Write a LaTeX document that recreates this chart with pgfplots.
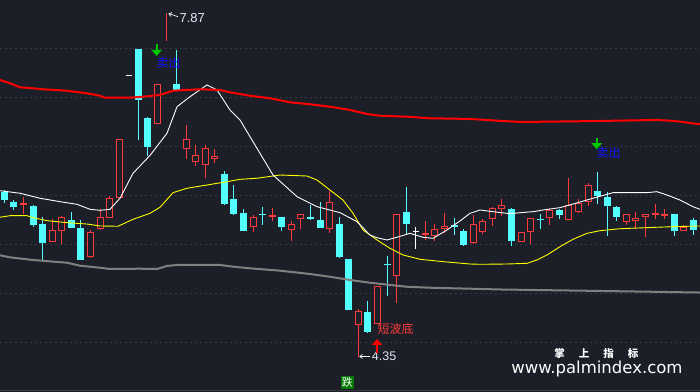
\documentclass[border=0pt]{standalone}
\usepackage{fontspec}
\setmainfont{Liberation Sans}
\newfontfamily\cjk{Noto Sans CJK SC}
\newfontfamily\dejavu{DejaVu Sans}
\usepackage{pgfplots}
\usepackage{pgfplotstable}
\pgfplotsset{compat=1.18}
\usetikzlibrary{arrows.meta}
\definecolor{bg}{RGB}{28,31,39}
\definecolor{gridc}{RGB}{54,58,66}
\definecolor{cy}{RGB}{84,255,255}
\definecolor{rd}{RGB}{255,58,58}
\definecolor{band}{RGB}{255,0,0}
\definecolor{yl}{RGB}{255,255,0}
\definecolor{gy}{RGB}{128,128,128}
\definecolor{bl}{RGB}{20,20,255}
\definecolor{gr}{RGB}{0,200,0}
\definecolor{boxg}{RGB}{0,120,0}
\definecolor{lbl}{RGB}{225,232,245}

% up candles (hollow red): x open high low close
\pgfplotstableread{
x o h l c
5 5.534 5.762 5.534 5.650
6 5.646 5.796 5.510 5.783
9 5.381 5.650 5.370 5.633
10 5.666 5.864 5.653 5.783
11 5.779 6.000 5.779 5.977
12 5.977 6.579 5.977 6.579
16 6.732 7.140 6.732 7.140
19 6.477 6.724 6.374 6.579
20 6.344 6.520 6.309 6.418
21 6.316 6.520 6.181 6.487
22 6.374 6.477 6.334 6.408
26 5.681 5.806 5.636 5.789
30 5.650 5.745 5.544 5.711
31 5.762 5.813 5.660 5.813
34 5.660 6.054 5.619 5.942
37 4.681 4.844 4.354 4.827
39 4.691 5.082 4.691 5.082
41 5.187 5.813 4.911 5.813
45 5.592 5.714 5.544 5.660
46 5.660 5.830 5.619 5.691
49 5.517 5.806 5.507 5.711
50 5.630 5.765 5.609 5.745
51 5.762 5.885 5.697 5.874
52 5.870 5.969 5.796 5.905
54 5.528 5.630 5.528 5.630
55 5.630 5.772 5.507 5.772
57 5.772 5.874 5.704 5.857
59 5.752 6.181 5.752 5.908
60 5.840 5.966 5.823 5.932
61 5.936 6.130 5.901 6.112
65 5.738 5.813 5.704 5.813
66 5.748 5.840 5.670 5.779
67 5.783 5.813 5.585 5.813
71 5.640 5.704 5.640 5.687
}\uptab

% small up candles (red cross)
\pgfplotstableread{
x o h l c
2 5.908 5.993 5.816 5.929
17 7.584 7.864 7.584 7.584
28 5.783 5.874 5.748 5.803
44 5.602 5.748 5.551 5.626
68 5.809 5.918 5.765 5.823
69 5.799 5.864 5.762 5.816
}\smalluptab

% down candles (filled cyan)
\pgfplotstableread{
x o h l c
0 6.034 6.061 5.925 5.959
1 5.932 5.959 5.857 5.891
3 5.888 5.908 5.687 5.704
4 5.714 5.789 5.347 5.523
7 5.755 5.837 5.677 5.677
8 5.673 5.755 5.347 5.347
14 7.490 7.490 6.571 6.987
15 6.789 6.803 6.408 6.503
18 7.133 7.490 7.082 7.082
23 6.224 6.255 5.908 5.925
24 5.966 6.112 5.806 5.823
25 5.823 5.864 5.646 5.646
27 5.816 5.891 5.704 5.806
29 5.783 5.783 5.646 5.687
32 5.783 5.908 5.755 5.772
33 5.745 5.942 5.677 5.677
35 5.714 5.789 5.364 5.381
36 5.357 5.357 4.844 4.844
38 4.813 4.929 4.605 4.622
40 5.306 5.388 4.983 5.296
42 5.830 6.095 5.602 5.721
47 5.697 5.772 5.602 5.687
48 5.636 5.663 5.490 5.510
53 5.867 5.878 5.493 5.544
56 5.765 5.816 5.663 5.755
58 5.857 5.867 5.762 5.813
62 6.051 6.248 5.918 6.003
63 5.987 6.038 5.595 5.901
64 5.885 5.895 5.748 5.789
70 5.816 5.816 5.595 5.646
72 5.748 5.779 5.602 5.663
}\downtab

% doji (white)
\pgfplotstableread{
x o h l c
13 7.227 7.232 7.232 7.237
43 5.628 5.687 5.459 5.638
}\dojitab

\pgfplotstableread{
x y
-0.45 7.184
0.6 7.150
1.64 7.109
3.0 7.099
4.04 7.089
6.55 7.074
8.64 7.048
10.0 7.023
10.52 7.003
13.13 7.003
14.49 7.013
16.27 7.031
17.63 7.074
20.45 7.089
22.54 7.082
23.58 7.058
25.67 7.023
27.76 6.997
29.85 6.956
31.94 6.936
34.03 6.911
36.12 6.878
37.9 6.837
39.26 6.819
42.08 6.809
44.48 6.793
48.66 6.786
52.11 6.765
54.1 6.755
61.93 6.765
68.2 6.776
70.08 6.765
70.92 6.755
72.38 6.735
72.7 6.735
}\redtab

\pgfplotstableread{
x y
-0.45 6.054
1.64 6.028
3.73 5.977
5.82 5.942
7.6 5.915
8.96 5.864
10.0 5.854
11.04 5.864
12.09 5.977
13.45 6.232
15.22 6.413
17.0 6.640
18.05 6.911
19.4 7.013
21.18 7.133
22.23 7.082
23.58 6.878
24.63 6.776
26.51 6.469
28.08 6.214
30.59 5.993
32.68 5.891
35.08 5.830
36.86 5.738
38.21 5.602
38.95 5.574
39.99 5.551
41.03 5.579
42.39 5.619
43.75 5.579
44.8 5.568
46.26 5.653
47.62 5.745
48.66 5.823
49.71 5.857
51.07 5.840
52.53 5.823
53.16 5.823
55.25 5.840
56.29 5.857
58.07 5.881
59.43 5.918
61.52 5.977
63.61 6.034
65.7 6.034
67.16 6.034
68.2 6.044
69.25 6.010
70.61 5.959
71.96 5.891
72.7 5.864
}\whitetab

\pgfplotstableread{
x y
-0.45 5.783
0.6 5.799
2.37 5.799
3.0 5.779
4.46 5.748
6.55 5.728
8.64 5.714
10.0 5.694
11.88 5.691
13.45 5.762
15.22 5.823
16.27 5.885
17.63 6.034
19.09 6.079
21.18 6.112
23.27 6.146
24.63 6.170
26.41 6.181
28.81 6.214
31.63 6.204
32.68 6.163
34.03 6.061
35.39 5.959
36.44 5.823
37.49 5.653
38.95 5.551
40.31 5.466
41.67 5.398
43.44 5.354
45.85 5.330
48.66 5.306
49.71 5.303
52.53 5.306
54.62 5.313
55.66 5.347
56.71 5.398
58.07 5.483
59.43 5.558
60.89 5.619
62.25 5.646
64.34 5.666
67.16 5.677
69.87 5.687
72.7 5.694
}\yellowtab

\pgfplotstableread{
x y
-0.45 5.395
0.6 5.374
3.0 5.347
6.55 5.319
7.91 5.289
10.0 5.268
11.04 5.255
14.18 5.258
15.96 5.255
17.0 5.286
18.05 5.296
22.54 5.296
23.9 5.279
25.67 5.262
28.81 5.238
31.94 5.204
34.03 5.176
36.12 5.143
38.21 5.115
40.3 5.092
42.08 5.074
44.48 5.064
48.66 5.054
51.8 5.046
62.25 5.031
72.7 5.015
}\graytab

\pgfplotsset{
  candle/.style={only marks, mark=*, mark size=0pt, mark options={draw=none, fill=none}},
}

\begin{document}
\begin{tikzpicture}
\begin{axis}[
  width=700pt, height=392pt, scale only axis,
  xmin=-0.45, xmax=72.7, ymin=4.0, ymax=8.0,
  axis line style={draw=none},
  axis background/.style={fill=bg},
  xtick=\empty,
  ytick={4.5,5.0,5.5,6.0,6.5,7.0,7.5},
  yticklabels={},
  major tick length=0pt,
  ymajorgrids,
  grid style={gridc, line width=1pt, dash pattern=on 2pt off 3pt},
]
% ---- down candles: wick + filled body
\addplot[candle, error bars/.cd, y dir=plus, y explicit, error mark=none,
  error bar style={line width=1pt, color=cy}]
  table[x=x, y=l, y error expr=\thisrow{h}-\thisrow{l}] {\downtab};
\addplot[candle, error bars/.cd, y dir=plus, y explicit, error mark=none,
  error bar style={line width=7pt, color=cy}]
  table[x=x, y expr=\thisrow{c}-0.005, y error expr=\thisrow{o}-\thisrow{c}+0.01] {\downtab};
% ---- up candles: wick + hollow body
\addplot[candle, error bars/.cd, y dir=plus, y explicit, error mark=none,
  error bar style={line width=1pt, color=rd}]
  table[x=x, y=l, y error expr=\thisrow{h}-\thisrow{l}] {\uptab};
\addplot[candle, error bars/.cd, y dir=plus, y explicit, error mark=none,
  error bar style={line width=7pt, color=rd}]
  table[x=x, y=o, y error expr=\thisrow{c}-\thisrow{o}] {\uptab};
\addplot[candle, error bars/.cd, y dir=plus, y explicit, error mark=none,
  error bar style={line width=5pt, color=bg}]
  table[x=x, y expr=\thisrow{o}+0.0102, y error expr=\thisrow{c}-\thisrow{o}-0.0204] {\uptab};
% ---- small up candles
\addplot[candle, error bars/.cd, y dir=plus, y explicit, error mark=none,
  error bar style={line width=1pt, color=rd}]
  table[x=x, y=l, y error expr=\thisrow{h}-\thisrow{l}] {\smalluptab};
\addplot[candle, error bars/.cd, y dir=plus, y explicit, error mark=none,
  error bar style={line width=7pt, color=rd}]
  table[x=x, y=o, y error expr=\thisrow{c}-\thisrow{o}] {\smalluptab};
% ---- doji
\addplot[candle, error bars/.cd, y dir=plus, y explicit, error mark=none,
  error bar style={line width=1pt, color=white}]
  table[x=x, y=l, y error expr=\thisrow{h}-\thisrow{l}] {\dojitab};
\addplot[candle, error bars/.cd, y dir=plus, y explicit, error mark=none,
  error bar style={line width=6pt, color=white}]
  table[x=x, y=o, y error expr=\thisrow{c}-\thisrow{o}] {\dojitab};
% ---- indicator lines
\addplot[gy, line width=2pt, mark=none] table[x=x, y=y] {\graytab};
\addplot[yl, line width=0.9pt, mark=none] table[x=x, y=y] {\yellowtab};
\addplot[white, line width=0.9pt, mark=none] table[x=x, y=y] {\whitetab};
\addplot[band, line width=2pt, mark=none] table[x=x, y=y] {\redtab};
% ---- annotations
\draw[white, line width=0.7pt, -{Straight Barb[length=2.5pt,width=4pt]}] (axis cs:18.15,7.830) -- (axis cs:17.15,7.862);
\node[anchor=west, inner sep=0pt, text=lbl, font=\fontsize{13}{13}\selectfont] at (axis cs:18.3,7.816) {7.87};
\draw[white, line width=0.7pt, -{Straight Barb[length=2.5pt,width=4pt]}] (axis cs:38.25,4.362) -- (axis cs:37.1,4.362);
\node[anchor=west, inner sep=0pt, text=lbl, font=\fontsize{12.5}{12.5}\selectfont] at (axis cs:38.4,4.362) {4.35};
\draw[gr, line width=2pt, -{Triangle[length=6pt,width=10pt]}] (axis cs:15.92,7.551) -- (axis cs:15.92,7.429);
\draw[gr, line width=2pt, -{Triangle[length=6pt,width=10pt]}] (axis cs:61.9,6.589) -- (axis cs:61.9,6.477);
\node[inner sep=0pt, text=bl, font=\cjk\fontsize{12}{12}\selectfont] at (axis cs:17.16,7.357) {卖出};
\node[inner sep=0pt, text=bl, font=\cjk\fontsize{12}{12}\selectfont] at (axis cs:63.14,6.439) {卖出};
\draw[band, line width=2pt, -{Triangle[length=6pt,width=10pt]}] (axis cs:38.95,4.398) -- (axis cs:38.95,4.541);
\node[inner sep=0pt, text=rd, font=\cjk\fontsize{12}{12}\selectfont] at (axis cs:40.88,4.643) {短波底};
\node[inner sep=0pt, minimum size=13pt, fill=boxg, text=white, font=\cjk\fontsize{11}{11}\selectfont] at (axis cs:35.86,4.097) {跌};
\node[inner sep=0pt, text=white, font=\cjk\bfseries\fontsize{10.5}{10.5}\selectfont] at (axis cs:61.88,4.395) {掌\hspace{14pt}上\hspace{14pt}指\hspace{14pt}标};
\node[anchor=base, inner sep=0pt, text=white, font=\dejavu\fontsize{16.5}{16.5}\selectfont] at (axis cs:61.93,4.191) {www.palmindex.com};
\draw[gridc, line width=1pt] (axis cs:-0.45,4.015) -- (axis cs:72.7,4.015);
\end{axis}
\pgfresetboundingbox
\path[use as bounding box] (current axis.south west) rectangle (current axis.north east);
\end{tikzpicture}
\end{document}
